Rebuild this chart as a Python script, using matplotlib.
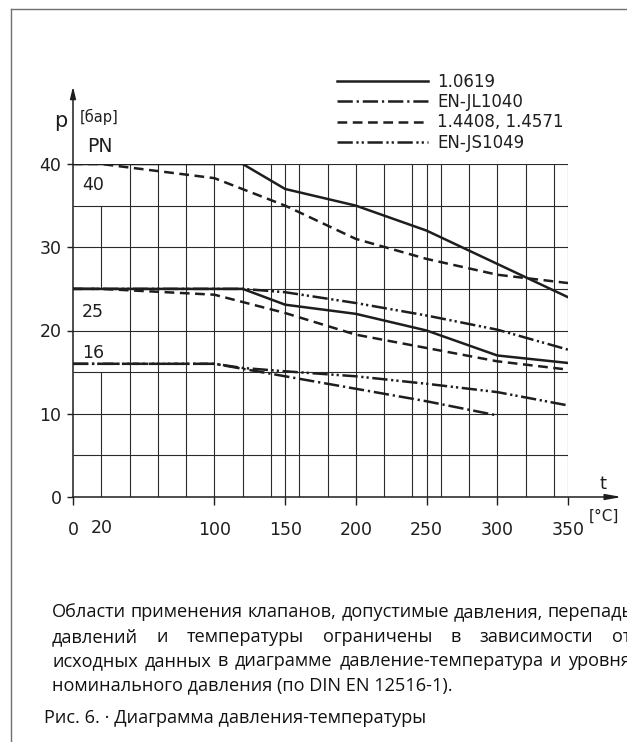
import matplotlib
matplotlib.use('Agg')
import matplotlib.pyplot as plt
from matplotlib.lines import Line2D

W, H, DPI = 627, 742, 100

# ---------------- data ----------------
t_10619_pn40 = [0, 120, 150, 200, 250, 300, 350]
p_10619_pn40 = [40, 40, 37.0, 35.0, 32.0, 28.0, 24.0]
t_10619_pn25 = [0, 120, 150, 200, 250, 300, 350]
p_10619_pn25 = [25, 25, 23.1, 22.0, 20.0, 17.0, 16.1]

t_14408_pn40 = [0, 20, 100, 150, 200, 250, 300, 350]
p_14408_pn40 = [40, 40, 38.3, 35.0, 31.0, 28.6, 26.7, 25.7]
t_14408_pn25 = [0, 20, 100, 150, 200, 250, 300, 350]
p_14408_pn25 = [25, 25, 24.3, 22.1, 19.5, 17.9, 16.3, 15.3]

t_js1049_pn25 = [0, 120, 150, 200, 250, 300, 350]
p_js1049_pn25 = [25, 25, 24.6, 23.3, 21.8, 20.1, 17.7]
t_js1049_pn16 = [0, 100, 120, 150, 200, 250, 300, 350]
p_js1049_pn16 = [16, 16, 15.5, 15.1, 14.5, 13.6, 12.6, 11.0]

t_jl1040_pn16 = [0, 100, 120, 150, 200, 250, 300]
p_jl1040_pn16 = [16, 16, 15.4, 14.5, 13.0, 11.5, 9.8]

legend_labels = ["1.0619", "EN-JL1040", "1.4408, 1.4571", "EN-JS1049"]
pn_labels = ["40", "25", "16"]
pn_values = [40, 25, 16]

x_ticks = [0, 100, 150, 200, 250, 300, 350]
x_minor_ticks = [20]
y_ticks = [0, 10, 20, 30, 40]
x_grid = [40, 60, 80, 100, 120, 140, 150, 160, 180, 200, 220, 240, 250,
          260, 280, 300, 320, 340, 350]
y_grid = [5, 10, 15, 20, 25, 30, 35, 40]

caption_lines = [
    "Области применения клапанов, допустимые давления, перепады",
    "давлений и температуры ограничены в зависимости от",
    "исходных данных в диаграмме давление-температура и уровня",
    "номинального давления (по DIN EN 12516-1).",
]
figure_title = "Рис. 6. · Диаграмма давления-температуры"

# ---------------- styles ----------------
plt.rcParams['font.family'] = ['DejaVu Sans']
plt.rcParams['lines.scale_dashes'] = False
INK = '#1e1e1e'
GRID = '#2a2a2a'
LW = 1.8
solid = '-'
dashed = (0, (7.0, 4.0))
dashdot = (0, (11.0, 2.8, 1.6, 2.8))
dashdotdot = (0, (11.0, 2.6, 1.6, 2.2, 1.6, 2.6))

fig = plt.figure(figsize=(W / DPI, H / DPI), dpi=DPI)
fig.patch.set_facecolor('white')


def fx(px):
    return px / W


def fy(py):
    return 1 - py / H


# frame
fig.add_artist(Line2D([fx(11), fx(11)], [fy(9), 0], color='#707070', lw=1.0))
fig.add_artist(Line2D([fx(11), 1.0], [fy(9), fy(9)], color='#707070', lw=1.0))

ax = fig.add_axes([fx(73), fy(497), fx(568) - fx(73), fy(164) - fy(497)])
ax.set_xlim(0, 350)
ax.set_ylim(0, 40)
for s in ax.spines.values():
    s.set_visible(False)
ax.patch.set_alpha(0)

# grid
ax.vlines(x_grid, 0, 40, color=GRID, lw=0.8, zorder=1)
ax.vlines([20, 20], [0, 25], [15, 35], color=GRID, lw=0.8, zorder=1)
ax.hlines(y_grid, 0, 350, color=GRID, lw=0.8, zorder=1)

# axes arrows
ax.annotate('', xy=(0, 49.3), xytext=(0, 0), xycoords='data',
            arrowprops=dict(arrowstyle='-|>,head_length=0.7,head_width=0.17',
                            lw=1.1, color=INK, shrinkA=0, shrinkB=0),
            annotation_clip=False)
ax.annotate('', xy=(388, 0), xytext=(0, 0), xycoords='data',
            arrowprops=dict(arrowstyle='-|>,head_length=0.95,head_width=0.17',
                            lw=1.1, color=INK, shrinkA=0, shrinkB=0),
            annotation_clip=False)

# curves
h1, = ax.plot(t_10619_pn40, p_10619_pn40, color=INK, lw=LW, ls=solid, zorder=3)
ax.plot(t_10619_pn25, p_10619_pn25, color=INK, lw=LW, ls=solid, zorder=3)
h3, = ax.plot(t_14408_pn40, p_14408_pn40, color=INK, lw=LW, ls=dashed, zorder=3)
ax.plot(t_14408_pn25, p_14408_pn25, color=INK, lw=LW, ls=dashed, zorder=3)
h4, = ax.plot(t_js1049_pn25, p_js1049_pn25, color=INK, lw=LW, ls=dashdotdot, zorder=3)
ax.plot(t_js1049_pn16, p_js1049_pn16, color=INK, lw=LW, ls=dashdotdot, zorder=3)
h2, = ax.plot(t_jl1040_pn16, p_jl1040_pn16, color=INK, lw=LW, ls=dashdot, zorder=3)

# ticks
ax.set_xticks(x_ticks)
ax.set_xticklabels([str(v) for v in x_ticks])
ax.set_xticks(x_minor_ticks, minor=True)
ax.set_xticklabels([str(v) for v in x_minor_ticks], minor=True)
ax.set_yticks(y_ticks)
ax.set_yticklabels([str(v) for v in y_ticks])
ax.set_yticks([], minor=True)
ax.tick_params(axis='x', which='major', direction='out', length=6, width=1.0,
               color=INK, pad=11.5, labelsize=12.5, labelcolor=INK)
ax.tick_params(axis='x', which='minor', length=0, pad=16.1, labelsize=12.5,
               labelcolor=INK)
ax.tick_params(axis='y', direction='out', length=4, width=1.0, color=INK,
               pad=4.3, labelsize=12.5, labelcolor=INK)

# PN labels inside
for lab, val, dy in zip(pn_labels, pn_values, [-2.5, -2.8, 1.3]):
    ax.text(6.5, val + dy, lab, fontsize=12.5, color=INK, ha='left', va='center')

# axis titles
fig.text(fx(61), fy(127), 'p', fontsize=15, color=INK, ha='center', va='baseline')
fig.text(fx(80), fy(117), '[бар]', fontsize=10.5, color=INK, ha='left', va='center')
fig.text(fx(87), fy(147), 'PN', fontsize=13.5, color=INK, ha='left', va='center')
fig.text(fx(603), fy(484), 't', fontsize=13, color=INK, ha='center', va='center')
fig.text(fx(604), fy(516), '[°C]', fontsize=11, color=INK, ha='center', va='center')

# legend
fs_leg = 12
fs_px = fs_leg * DPI / 72
leg = ax.legend(handles=[h1, h2, h3, h4], labels=legend_labels,
                loc='upper left', bbox_to_anchor=(fx(337), fy(73)),
                bbox_transform=fig.transFigure, frameon=False,
                fontsize=fs_leg, handlelength=91 / fs_px,
                handletextpad=9 / fs_px, borderpad=0, borderaxespad=0,
                labelspacing=0.13)
for t in leg.get_texts():
    t.set_color(INK)

# caption text (justified)
cap_family = ['Open Sans', 'DejaVu Sans']
renderer = fig.canvas.get_renderer()


def text_width(s, size):
    t = fig.text(0, 0, s, fontsize=size, family=cap_family)
    w = t.get_window_extent(renderer).width
    t.remove()
    return w


x0, x_right = 52, 631
size_a = 10 * 405 / text_width(caption_lines[3], 10)
size_b = 10 * (x_right - x0) / text_width(caption_lines[0], 10)
cap_size = 0.5 * (size_a + size_b)
space_w = text_width('a a', cap_size) - text_width('aa', cap_size)

line_y = [612, 637, 661, 685]
for i, (line, ybase) in enumerate(zip(caption_lines, line_y)):
    if i < 3:
        words = line.split(' ')
        widths = [text_width(wd, cap_size) for wd in words]
        gap = (x_right - x0 - sum(widths)) / (len(words) - 1)
        gap = max(gap, space_w)
        x = x0
        for wd, wdt in zip(words, widths):
            fig.text(fx(x), fy(ybase + 5), wd, fontsize=cap_size,
                     family=cap_family, color='#111111', ha='left', va='baseline')
            x += wdt + gap
    else:
        fig.text(fx(x0), fy(ybase + 5), line, fontsize=cap_size,
                 family=cap_family, color='#111111', ha='left', va='baseline')

fig.text(fx(44), fy(718 + 5), figure_title, fontsize=cap_size,
         family=cap_family, color='#111111', ha='left', va='baseline')

fig.savefig('out.png', dpi=DPI, facecolor='white')
